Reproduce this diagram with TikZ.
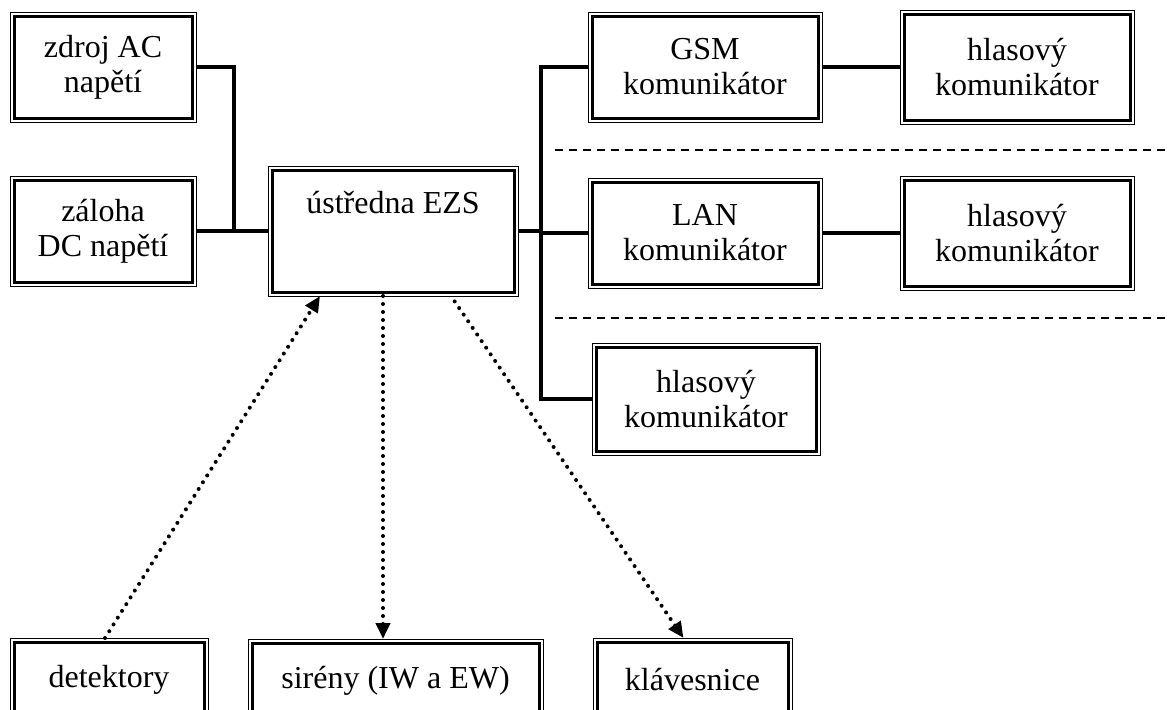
\documentclass[tikz,border=0pt]{standalone}
\usepackage{fontspec}
\setmainfont{Liberation Serif}
\usetikzlibrary{positioning,calc,arrows.meta}
\tikzstyle{block} = [rectangle,draw=black,line width=1.5pt,outer sep=2pt,inner sep=2pt,align=center,font=\fontsize{16}{17.5}\selectfont]
\tikzstyle{wire} = [line width=1.8pt]
\tikzstyle{link} = [line width=2pt,line cap=round,dash pattern=on 0pt off 4pt]
\tikzstyle{tip} = [-{Triangle[length=8pt,width=7pt]}]
\tikzstyle{sep} = [line width=0.7pt,dash pattern=on 4pt off 3pt]

\begin{document}
\begin{tikzpicture}[x=0.5pt,y=-0.5pt]
        \useasboundingbox (0,0) rectangle (1168,709);
        % napajeni
        \node[block,minimum width=89pt,minimum height=51pt] (ac) at (103,67) {zdroj AC \\ napětí};
        \node[block,minimum width=89pt,minimum height=51pt] (dc) at (103,231) {záloha \\ DC napětí};
        \node[block,minimum width=121pt,minimum height=61pt,text height=11pt,text depth=29pt] (ezs) at (393,231) {ústředna EZS};
        % komunikatory
        \node[block,minimum width=113pt,minimum height=51pt] (gsm) at (705,67) {GSM \\ komunikátor};
        \node[block,minimum width=113pt,minimum height=53pt,right=39pt of gsm] (hl1) {hlasový \\ komunikátor};
        \node[block,minimum width=113pt,minimum height=51pt] (lan) at (705,233) {LAN \\ komunikátor};
        \node[block,minimum width=113pt,minimum height=53pt,right=39pt of lan] (hl2) {hlasový \\ komunikátor};
        \node[block,minimum width=110pt,minimum height=52pt] (hl3) at (706,399) {hlasový \\ komunikátor};
        % periferie
        \node[block,minimum width=95pt,minimum height=38pt] (det) at (109,680) {detektory};
        \node[block,minimum width=143.5pt,minimum height=38pt] (sir) at (395.5,681) {sirény (IW a EW)};
        \node[block,minimum width=95.5pt,minimum height=38pt] (kla) at (692.5,680) {klávesnice};
        \foreach \n in {ac,dc,ezs,gsm,hl1,lan,hl2,hl3,det,sir,kla}
            \draw[line width=0.5pt] (\n.north west) rectangle (\n.south east);
        % vedeni
        \coordinate (pwr) at (234,231);
        \coordinate (bus) at (541,231);
        \draw[wire] (ac.east) -| (pwr);
        \draw[wire] (dc.east) -- (ezs.west);
        \draw[wire] (ezs.east) -- (bus);
        \draw[wire] (gsm.west) -| (bus) |- (hl3.west);
        \draw[wire] (bus |- lan.west) -- (lan.west);
        \draw[wire] (gsm.east) -- (gsm.east -| hl1.west);
        \draw[wire] (lan.east) -- (lan.east -| hl2.west);
        \draw[sep] (555,150) -- (1168,150);
        \draw[sep] (555,318) -- (1168,318);
        % signaly
        \draw[link,tip] ([xshift=-2pt]det.north) -- ([xshift=-36.5pt]ezs.south);
        \draw[link,tip] ([xshift=-5pt]ezs.south) -- ([xshift=-5pt]ezs.south |- sir.north);
        \draw[link,tip,{Triangle[length=8pt,width=7pt]}-] ([xshift=-4.5pt]kla.north) -- ([xshift=29pt]ezs.south);
\end{tikzpicture}
\end{document}
